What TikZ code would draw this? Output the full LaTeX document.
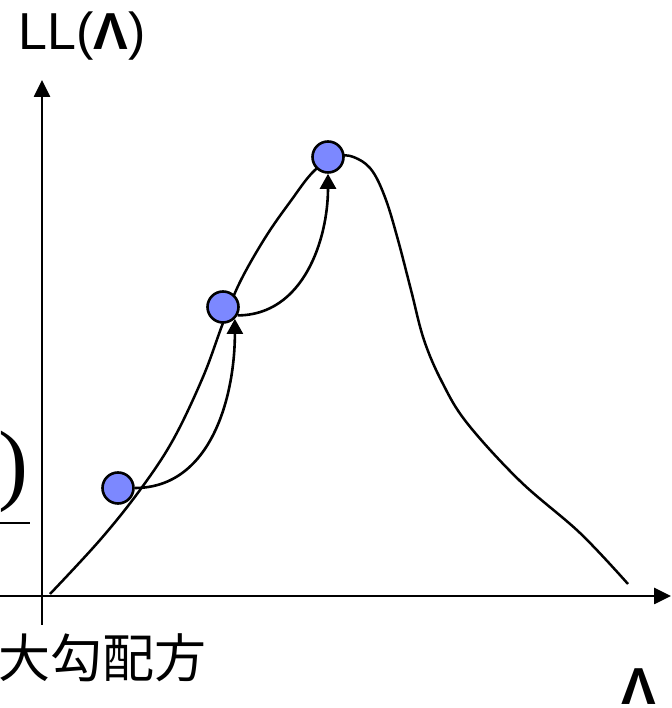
\documentclass[tikz,border=0pt]{standalone}
\usepackage{fontspec}
\setmainfont{Liberation Sans}
\newfontfamily\cjkfont{Noto Sans CJK JP}
\newfontfamily\romanfont{Liberation Serif}
\usepackage{tikz}
\usetikzlibrary{positioning,arrows.meta,calc}
\definecolor{ball}{HTML}{7C88FF}

\begin{document}
\begin{tikzpicture}[x=1pt, y=1pt,
        axis/.style={line width=2.6pt, -{Triangle[length=17pt, width=16pt]}},
        climb/.style={line width=2.6pt, -{Triangle[length=15pt, width=16pt]}},
        ball/.style={circle, draw, line width=2.6pt, fill=ball, minimum size=31pt, inner sep=0pt},
        label/.style={inner sep=0pt, font=\fontsize{52}{52}\selectfont},
      ]
        \useasboundingbox (0,0) rectangle (671,708);
        % axes
        \coordinate (ybot) at (42,83);
        \coordinate (ytop) at (42,628);
        \coordinate (xleft) at (0,112);
        \coordinate (xright) at (671,112);
        \draw[axis] (ybot) -- (ytop);
        \draw[axis] (xleft) -- (xright);
        % likelihood curve
        \draw[line width=2.5pt, line join=round] plot[smooth, tension=0.6] coordinates {
          (50,114) (100,168) (140,218) (173,268) (203,331) (223,385) (240,426)
          (265,470) (290,506) (315,538) (340,552) (358,549) (373,536) (386,508)
          (398,468) (411,418) (424,368) (442,326) (467,285) (520,227) (580,175)
          (628,124)};
        % steps
        \node[ball] (p1) at (118,220) {};
        \node[ball] (p2) at (223,401) {};
        \node[ball] (p3) at (328,551) {};
        \draw[climb] (p1.east) to[out=0, in=-90] (p2.south east);
        \draw[climb] (p2.-30) to[out=0, in=-90] (p3.south);
        % labels
        \node[label, anchor=base west] (ll) at (18,658) {LL(\textbf{Λ})};
        \node[label, anchor=base west] (lam) at (621,3) {\textbf{Λ}};
        \node[label, anchor=base west, font=\fontsize{52}{52}\selectfont\cjkfont] (cjk) at (-2,30) {大勾配方};
        \node[inner sep=0pt, anchor=base west, font=\fontsize{90}{90}\selectfont\romanfont] (paren) at (-2,214) {)};
        \draw[line width=2.5pt] (0,185) -- (30,185);
      \end{tikzpicture}
\end{document}
